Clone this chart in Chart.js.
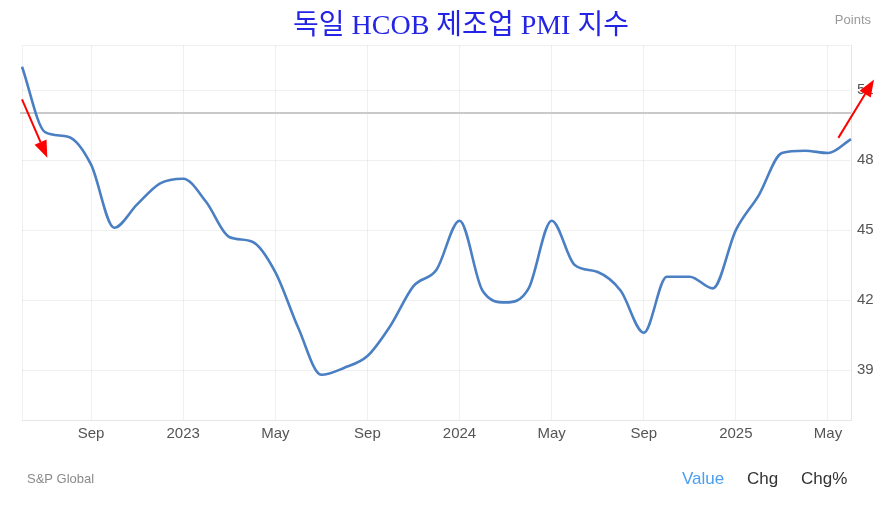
<!DOCTYPE html>
<html>
<head>
<meta charset="utf-8">
<script src="https://cdn.jsdelivr.net/npm/chart.js@4.4.0/dist/chart.umd.min.js"></script>
<style>
  html, body { margin: 0; padding: 0; background: #fff; }
  #wrap { width: 890px; height: 510px; position: relative; }
</style>
</head>
<body>
<div id="wrap"><canvas id="myChart" width="890" height="510"></canvas></div>
<script>
// monthly data, Jun 2022 - Jun 2025
var months = ['2022-06','2022-07','2022-08','2022-09','2022-10','2022-11','2022-12',
  '2023-01','2023-02','2023-03','2023-04','2023-05','2023-06','2023-07','2023-08','2023-09','2023-10','2023-11','2023-12',
  '2024-01','2024-02','2024-03','2024-04','2024-05','2024-06','2024-07','2024-08','2024-09','2024-10','2024-11','2024-12',
  '2025-01','2025-02','2025-03','2025-04','2025-05','2025-06'];
var pmi = [52.0, 49.2, 49.0, 47.8, 45.1, 46.1, 47.0,
  47.2, 46.2, 44.7, 44.5, 43.2, 40.8, 38.8, 39.1, 39.6, 40.9, 42.6, 43.3,
  45.4, 42.4, 41.9, 42.5, 45.4, 43.5, 43.2, 42.4, 40.6, 43.0, 43.0, 42.5,
  45.0, 46.5, 48.3, 48.4, 48.3, 48.9];

var tickMonths = ['2022-09','2023-01','2023-05','2023-09','2024-01','2024-05','2024-09','2025-01','2025-05'];
var tickTexts  = ['Sep','2023','May','Sep','2024','May','Sep','2025','May'];
var yTicks = [39, 42, 45, 48, 51];
var refLine = 50;

// red arrows: [start index, start value, tip index, tip value]
var arrows = [
  [0, 50.6, 1.1, 48.1],
  [35.45, 48.95, 37.0, 51.45]
];

var extras = {
  id: 'extras',
  beforeDatasetsDraw: function(chart) {
    var c = chart.ctx, a = chart.chartArea, y = chart.scales.y;
    c.save();
    // faint frame top/left
    c.strokeStyle = 'rgba(0,0,0,0.06)';
    c.lineWidth = 1;
    c.beginPath();
    c.moveTo(a.left + 0.5, a.bottom); c.lineTo(a.left + 0.5, a.top + 0.5); c.lineTo(a.right, a.top + 0.5);
    c.stroke();
    // 50 line
    var py = Math.round(y.getPixelForValue(refLine));
    c.strokeStyle = '#c9c9c9';
    c.lineWidth = 2;
    c.beginPath();
    c.moveTo(a.left - 2, py); c.lineTo(a.right, py);
    c.stroke();
    c.restore();
  },
  afterDraw: function(chart) {
    var c = chart.ctx, x = chart.scales.x, y = chart.scales.y;
    c.save();
    // title
    c.fillStyle = '#2424e6';
    c.font = '28px "Liberation Serif", "Noto Sans CJK KR"';
    c.textAlign = 'center';
    c.textBaseline = 'middle';
    c.fillText('독일 HCOB 제조업 PMI 지수', 461, 27);
    // units
    c.fillStyle = '#9a9a9a';
    c.font = '13px "Liberation Sans", Arial';
    c.textAlign = 'right';
    c.fillText('Points', 871, 20);
    // source
    c.textAlign = 'left';
    c.fillStyle = '#8a8a8a';
    c.fillText('S&P Global', 27, 479);
    // switches
    c.font = '17px "Liberation Sans", Arial';
    c.fillStyle = '#4a9ff0';
    c.fillText('Value', 682, 479);
    c.fillStyle = '#333';
    c.fillText('Chg', 747, 479);
    c.fillText('Chg%', 801, 479);
    // arrows
    c.strokeStyle = '#ff0000';
    c.fillStyle = '#ff0000';
    c.lineWidth = 2;
    arrows.forEach(function(ar) {
      var x0 = x.getPixelForValue(ar[0]), y0 = y.getPixelForValue(ar[1]);
      var x1 = x.getPixelForValue(ar[2]), y1 = y.getPixelForValue(ar[3]);
      var ang = Math.atan2(y1 - y0, x1 - x0), hl = 17, hw = 6.5;
      var bx = x1 - hl * Math.cos(ang), by = y1 - hl * Math.sin(ang);
      c.beginPath();
      c.moveTo(x0, y0); c.lineTo(bx, by);
      c.stroke();
      c.beginPath();
      c.moveTo(x1, y1);
      c.lineTo(bx + hw * Math.sin(ang), by - hw * Math.cos(ang));
      c.lineTo(bx - hw * Math.sin(ang), by + hw * Math.cos(ang));
      c.closePath();
      c.fill();
    });
    c.restore();
  }
};

var ctx = document.getElementById('myChart').getContext('2d');
var chart = new Chart(ctx, {
  type: 'line',
  data: {
    labels: months,
    datasets: [{
      label: 'PMI',
      data: pmi,
      borderColor: '#4a7fc3',
      borderWidth: 2.6,
      pointRadius: 0,
      fill: false,
      cubicInterpolationMode: 'monotone'
    }]
  },
  options: {
    responsive: false,
    animation: false,
    layout: { padding: { left: 22, top: 45, right: 0, bottom: 60 } },
    plugins: { legend: { display: false }, tooltip: { enabled: false } },
    scales: {
      x: {
        grid: { color: 'rgba(0,0,0,0.06)', drawTicks: false },
        border: { display: true, color: '#e6e6e6', width: 1 },
        ticks: {
          autoSkip: false, maxRotation: 0, padding: 5,
          color: '#555', font: { family: '"Liberation Sans", Arial', size: 15 },
          callback: function(v, i) {
            var k = tickMonths.indexOf(months[i]);
            return k >= 0 ? tickTexts[k] : null;
          }
        },
        afterFit: function(s) { s.height = 30; }
      },
      y: {
        position: 'right',
        min: 36.86, max: 52.93,
        afterBuildTicks: function(s) { s.ticks = yTicks.map(function(v) { return { value: v }; }); },
        grid: { color: 'rgba(0,0,0,0.06)', drawTicks: false },
        border: { display: true, color: '#e6e6e6', width: 1 },
        ticks: { padding: 6, color: '#555', font: { family: '"Liberation Sans", Arial', size: 15 } },
        afterFit: function(s) { s.width = 39; }
      }
    }
  },
  plugins: [extras]
});
</script>
</body>
</html>
